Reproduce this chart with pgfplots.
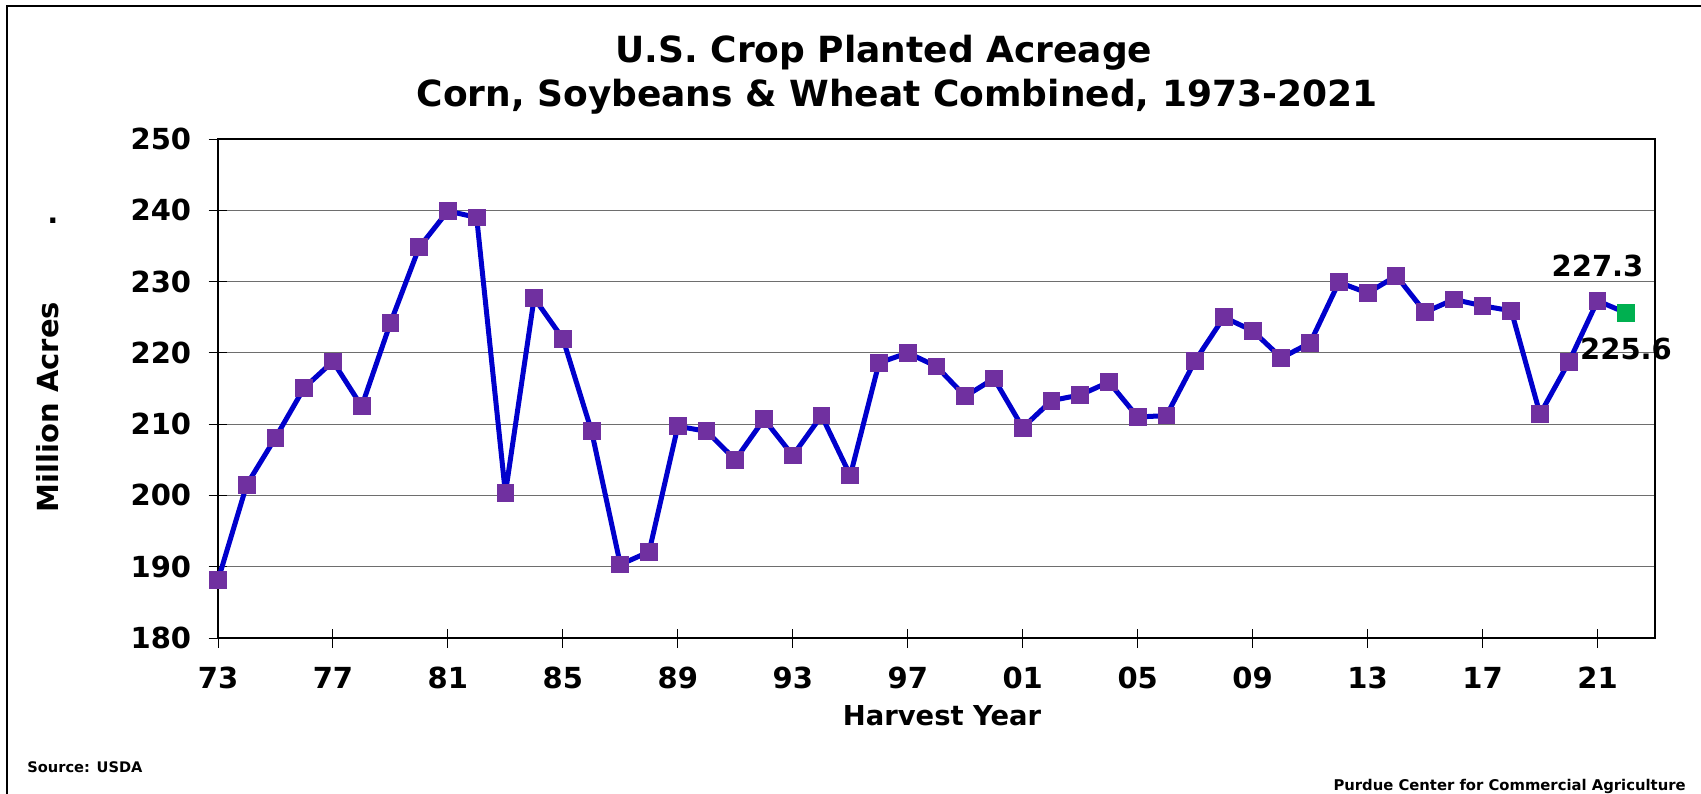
\documentclass[border=0pt]{standalone}
\usepackage{fontspec}
\setmainfont{DejaVu Sans}
\usepackage{pgfplots}
\pgfplotsset{compat=1.18}
\definecolor{lineblue}{HTML}{0000CC}
\definecolor{mkpurple}{HTML}{7030A0}
\definecolor{mkgreen}{HTML}{00B050}
\definecolor{gridgray}{HTML}{6E6E6E}
\pgfplotstableread{
year val
1973 188.1
1974 201.5
1975 208.1
1976 215.1
1977 218.8
1978 212.5
1979 224.2
1980 234.8
1981 239.9
1982 239.0
1983 200.3
1984 227.7
1985 222.0
1986 209.0
1987 190.3
1988 192.1
1989 209.7
1990 209.0
1991 205.0
1992 210.7
1993 205.6
1994 211.2
1995 202.8
1996 218.6
1997 220.0
1998 218.1
1999 213.9
2000 216.4
2001 209.5
2002 213.3
2003 214.1
2004 215.9
2005 211.0
2006 211.2
2007 218.9
2008 225.0
2009 223.1
2010 219.3
2011 221.4
2012 229.9
2013 228.4
2014 230.8
2015 225.7
2016 227.5
2017 226.6
2018 225.9
2019 211.4
2020 218.7
2021 227.3
}\hist
\pgfplotstableread{
year val
2021 227.3
2022 225.6
}\last
\pgfplotstableread{
year val
2022 225.6
}\green
\begin{document}
\begin{tikzpicture}
\useasboundingbox (0,0) rectangle (850.5pt,396.5pt);
\begin{scope}
\clip (0,0) rectangle (850.5pt,396.5pt);
\draw[line width=1pt] (3.5pt,-10pt) -- (3.5pt,393.5pt) -- (870pt,393.5pt);
\end{scope}
\begin{axis}[
  at={(109pt,77.5pt)}, anchor=south west,
  scale only axis, width=718.5pt, height=249.5pt,
  xmin=1973, xmax=2023, ymin=180, ymax=250,
  xtick={1973,1977,...,2021},
  xticklabels={73,77,81,85,89,93,97,01,05,09,13,17,21},
  ytick={180,190,...,250},
  xtick pos=bottom, ytick pos=left,
  /pgf/number format/assume math mode=true,
  tick label style={font=\fontsize{14.5pt}{16pt}\selectfont\bfseries, inner sep=0pt},
  yticklabel style={anchor=east, xshift=-8.5pt},
  xticklabel style={anchor=north, yshift=-9.6pt},
  tick align=center, major tick length=9.5pt,
  tick style={black, line width=0.5pt},
  ymajorgrids, grid style={gridgray, line width=0.6pt},
  axis line style={black, line width=1pt},
  clip=false,
]
\addplot[lineblue, line width=2.5pt, line join=round, no marks] table[x=year,y=val] {\hist};
\addplot[lineblue, line width=2.5pt, line join=round, no marks] table[x=year,y=val] {\last};
\addplot[only marks, mark=square*, mark size=4.2pt, mark options={fill=mkpurple, draw=mkpurple, line width=0pt}] table[x=year,y=val] {\hist};
\addplot[only marks, mark=square*, mark size=4.2pt, mark options={fill=mkgreen, draw=mkgreen, line width=0pt}] table[x=year,y=val] {\green};
\end{axis}
\node[anchor=base, font=\fontsize{18pt}{20pt}\selectfont\bfseries] at (442pt,365pt) {U.S. Crop Planted Acreage};
\node[anchor=base, font=\fontsize{18pt}{20pt}\selectfont\bfseries] at (448.5pt,343pt) {Corn, Soybeans \& Wheat Combined, 1973-2021};
\node[anchor=base, font=\fontsize{13.7pt}{15pt}\selectfont\bfseries] at (471pt,34pt) {Harvest Year};
\node[anchor=base, rotate=90, font=\fontsize{14.5pt}{16pt}\selectfont\bfseries] at (29pt,193pt) {Million Acres};
\node[anchor=base, font=\fontsize{14.5pt}{16pt}\selectfont\bfseries] at (26.5pt,284.5pt) {.};
\node[anchor=base, font=\fontsize{14.5pt}{16pt}\selectfont\bfseries] at (798.75pt,258pt) {227.3};
\node[anchor=base, font=\fontsize{14.5pt}{16pt}\selectfont\bfseries] at (813pt,216.5pt) {225.6};
\node[anchor=base west, inner sep=0pt, font=\fontsize{7.3pt}{8pt}\selectfont\bfseries] at (13.5pt,10.5pt) {Source: USDA};
\node[anchor=base east, inner sep=0pt, font=\fontsize{7.4pt}{8pt}\selectfont\bfseries] at (843pt,1.5pt) {Purdue Center for Commercial Agriculture};
\end{tikzpicture}
\end{document}
